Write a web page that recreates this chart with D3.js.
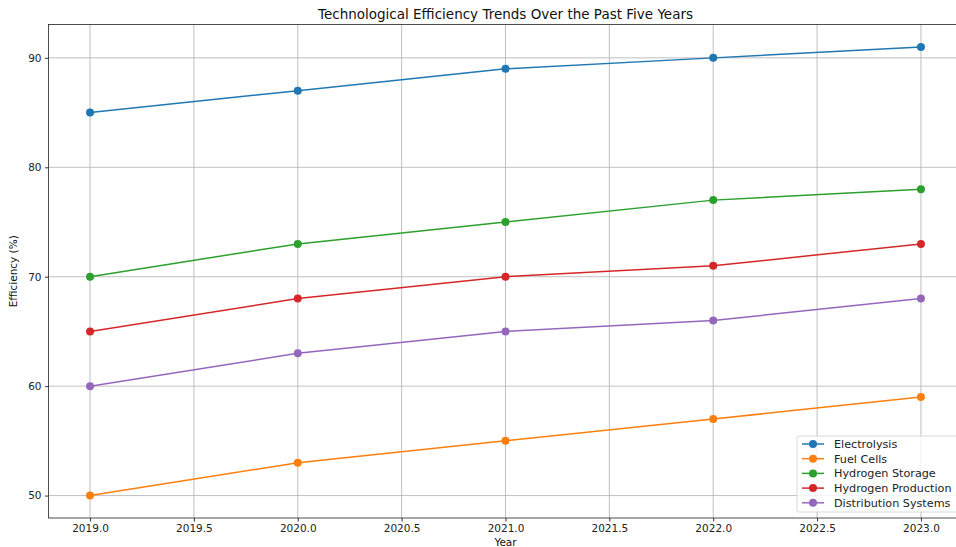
<!DOCTYPE html>
<html>
<head>
<meta charset="utf-8">
<script src="https://cdn.jsdelivr.net/npm/d3@7"></script>
<style>
  body { margin: 0; background: #fff; }
  svg { display: block; font-family: "DejaVu Sans", sans-serif; }
</style>
</head>
<body>
<div id="chart"></div>
<script>
// chart data
let years = [2019, 2020, 2021, 2022, 2023];
let series_names = ['Electrolysis', 'Fuel Cells', 'Hydrogen Storage', 'Hydrogen Production', 'Distribution Systems'];
let electrolysis = [85, 87, 89, 90, 91];
let fuel_cells = [50, 53, 55, 57, 59];
let hydrogen_storage = [70, 73, 75, 77, 78];
let hydrogen_production = [65, 68, 70, 71, 73];
let distribution_systems = [60, 63, 65, 66, 68];
let x_ticks = [2019.0, 2019.5, 2020.0, 2020.5, 2021.0, 2021.5, 2022.0, 2022.5, 2023.0];
let y_ticks = [50, 60, 70, 80, 90];
let colorify = ['#1f77b4', '#ff7f0e', '#2ca02c', '#d62728', '#9467bd'];

let all_values = [electrolysis, fuel_cells, hydrogen_storage, hydrogen_production, distribution_systems];

let width = 956, height = 547;
let plot_left = 48.5, plot_right = 962.5, plot_top = 24.5, plot_bottom = 518;

let svg = d3.select('#chart')
    .append('svg')
    .attr('width', width)
    .attr('height', height);

// matplotlib style 5% margins
let x_min = d3.min(years), x_max = d3.max(years);
let x_pad = (x_max - x_min) * 0.05;
let y_min = d3.min(all_values.flat()), y_max = d3.max(all_values.flat());
let y_pad = (y_max - y_min) * 0.05;

let x = d3.scaleLinear().domain([x_min - x_pad, x_max + x_pad]).range([plot_left, plot_right]);
let y = d3.scaleLinear().domain([y_min - y_pad, y_max + y_pad]).range([plot_bottom, plot_top]);

//格線
let grid = svg.append('g');
grid.selectAll('.gx').data(x_ticks).enter().append('line')
    .attr('x1', d => x(d)).attr('x2', d => x(d))
    .attr('y1', plot_top).attr('y2', plot_bottom)
    .style('stroke', '#b0b0b0').style('stroke-width', '0.8px');
grid.selectAll('.gy').data(y_ticks).enter().append('line')
    .attr('x1', plot_left).attr('x2', plot_right)
    .attr('y1', d => y(d)).attr('y2', d => y(d))
    .style('stroke', '#b0b0b0').style('stroke-width', '0.8px');

//座標軸
let x_axis = svg.append('g')
    .attr('transform', `translate(0,${plot_bottom})`)
    .call(d3.axisBottom(x).tickValues(x_ticks).tickFormat(d3.format('.1f')).tickSize(3.5).tickSizeOuter(0).tickPadding(3.5));
let y_axis = svg.append('g')
    .attr('transform', `translate(${plot_left},0)`)
    .call(d3.axisLeft(y).tickValues(y_ticks).tickSize(3.5).tickSizeOuter(0).tickPadding(3.5));

[x_axis, y_axis].forEach(a => {
    a.select('.domain').remove();
    a.selectAll('.tick line').style('stroke', '#000').style('stroke-width', '0.8px');
    a.selectAll('.tick text')
        .style('font-family', '"DejaVu Sans", sans-serif')
        .style('font-size', '10.5px')
        .style('fill', '#222');
});

//線條
let line = d3.line().x((d, i) => x(years[i])).y(d => y(d));
all_values.forEach((vals, k) => {
    let g = svg.append('g');
    g.append('path')
        .attr('d', line(vals))
        .style('fill', 'none')
        .style('stroke', colorify[k])
        .style('stroke-width', '1.5px');
    g.selectAll('circle').data(vals).enter().append('circle')
        .attr('cx', (d, i) => x(years[i]))
        .attr('cy', d => y(d))
        .attr('r', 4)
        .style('fill', colorify[k]);
});

//外框
svg.append('rect')
    .attr('x', plot_left).attr('y', plot_top)
    .attr('width', plot_right - plot_left).attr('height', plot_bottom - plot_top)
    .style('fill', 'none').style('stroke', '#222').style('stroke-width', '0.8px');

//標題
let cx = (plot_left + plot_right) / 2;
svg.append('text')
    .attr('x', cx).attr('y', 18.5)
    .style('text-anchor', 'middle')
    .style('font-size', '13.5px')
    .style('fill', '#111')
    .text('Technological Efficiency Trends Over the Past Five Years');
svg.append('text')
    .attr('x', cx).attr('y', 545.5)
    .style('text-anchor', 'middle')
    .style('font-size', '10.5px')
    .style('fill', '#111')
    .text('Year');
svg.append('text')
    .attr('transform', `translate(17,${(plot_top + plot_bottom) / 2}) rotate(-90)`)
    .style('text-anchor', 'middle')
    .style('font-size', '10.5px')
    .style('fill', '#111')
    .text('Efficiency (%)');

//圖例
let legend = svg.append('g').attr('transform', 'translate(797,436)');
legend.append('rect')
    .attr('x', 0).attr('y', 0).attr('width', 165).attr('height', 76)
    .attr('rx', 2)
    .style('fill', 'rgba(255,255,255,0.8)')
    .style('stroke', '#d0d0d0').style('stroke-width', '0.8px');
series_names.forEach((name, k) => {
    let ly = 8 + k * 14.7;
    legend.append('line')
        .attr('x1', 5).attr('x2', 27).attr('y1', ly).attr('y2', ly)
        .style('stroke', colorify[k]).style('stroke-width', '1.5px');
    legend.append('circle')
        .attr('cx', 16).attr('cy', ly).attr('r', 4)
        .style('fill', colorify[k]);
    legend.append('text')
        .attr('x', 37).attr('y', ly + 4)
        .style('font-size', '11.2px')
        .style('fill', '#222')
        .text(name);
});
</script>
</body>
</html>
